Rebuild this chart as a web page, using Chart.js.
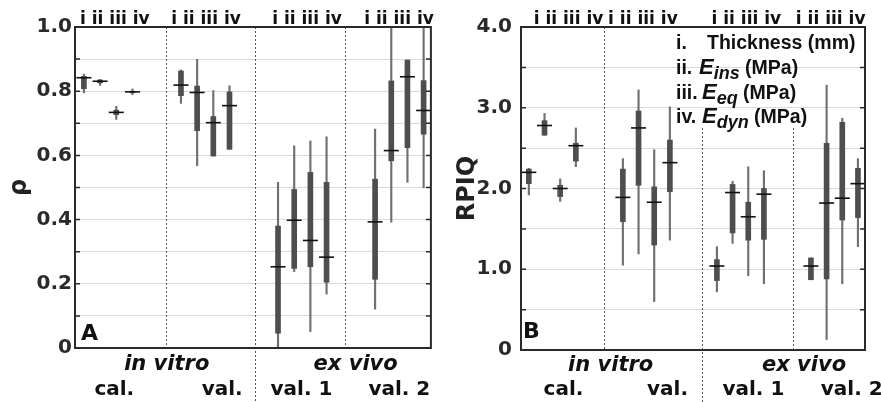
<!DOCTYPE html>
<html>
<head>
<meta charset="utf-8">
<script src="https://cdn.jsdelivr.net/npm/chart.js@4.4.1/dist/chart.umd.min.js"></script>
<style>
  html, body { margin: 0; padding: 0; background: #fff; }
  #wrap { position: relative; width: 881px; height: 402px; }
  #wrap canvas { position: absolute; top: 0; }
  #graficaA { left: 0; }
  #graficaB { left: 440px; }
</style>
</head>
<body>
<div id="wrap">
  <canvas id="graficaA" width="440" height="402"></canvas>
  <canvas id="graficaB" width="441" height="402"></canvas>
</div>
<script>
// posiciones de cada caja (4 grupos x 4 parametros)
const posiciones = [0, 1, 2, 3, 6, 7, 8, 9, 12, 13, 14, 15, 18, 19, 20, 21];
const parametros = ['i', 'ii', 'iii', 'iv'];
const origen = ['in vitro', 'ex vivo'];
const grupos = ['cal.', 'val.', 'val. 1', 'val. 2'];

// A: rho
const rhoMin = [0.795, 0.818, 0.712, 0.789, 0.762, 0.568, 0.598, 0.619, 0.0, 0.238, 0.051, 0.168, 0.121, 0.392, 0.516, 0.499];
const rhoQ1  = [0.808, 0.826, 0.727, 0.795, 0.786, 0.677, 0.598, 0.619, 0.046, 0.248, 0.253, 0.205, 0.214, 0.583, 0.624, 0.666];
const rhoMed = [0.842, 0.831, 0.734, 0.798, 0.819, 0.796, 0.702, 0.755, 0.253, 0.398, 0.335, 0.283, 0.393, 0.615, 0.845, 0.740];
const rhoQ3  = [0.846, 0.835, 0.741, 0.800, 0.863, 0.816, 0.721, 0.798, 0.380, 0.494, 0.547, 0.516, 0.526, 0.832, 0.897, 0.833];
const rhoMax = [0.853, 0.837, 0.753, 0.807, 0.866, 0.899, 0.802, 0.817, 0.516, 0.630, 0.645, 0.658, 0.682, 1.0, 0.897, 1.0];

// B: RPIQ
const rpiqMin = [1.92, 2.66, 1.84, 2.27, 1.05, 1.19, 0.60, 1.36, 0.72, 1.32, 0.92, 0.82, 0.87, 0.13, 0.82, 1.28];
const rpiqQ1  = [2.06, 2.66, 1.90, 2.34, 1.59, 2.04, 1.30, 1.96, 0.86, 1.45, 1.36, 1.37, 0.87, 0.88, 1.61, 1.64];
const rpiqMed = [2.20, 2.78, 2.00, 2.53, 1.89, 2.75, 1.83, 2.32, 1.04, 1.95, 1.65, 1.93, 1.04, 1.82, 1.88, 2.06];
const rpiqQ3  = [2.24, 2.84, 2.04, 2.56, 2.24, 2.96, 2.02, 2.60, 1.12, 2.05, 1.83, 2.00, 1.14, 2.56, 2.82, 2.25];
const rpiqMax = [2.25, 2.93, 2.12, 2.75, 2.37, 3.22, 2.48, 3.01, 1.28, 2.09, 2.27, 2.22, 1.14, 3.28, 2.87, 2.37];

const FUENTE = "'Liberation Sans', Arial, sans-serif";
const DEJAVU = "'DejaVu Sans', sans-serif";

const decoraciones = {
  id: 'decoraciones',
  beforeDatasetsDraw(chart, args, o) {
    const ctx = chart.ctx, a = chart.chartArea, x = chart.scales.x, y = chart.scales.y;
    ctx.save();
    ctx.strokeStyle = '#555';
    ctx.lineWidth = 1;
    ctx.setLineDash([2, 2]);
    o.separadores.forEach(s => {
      const px = Math.round(x.getPixelForValue(s.v)) + 0.5;
      const top = s.desde != null ? y.getPixelForValue(s.desde) : a.top;
      const bottom = s.hastaAbajo ? chart.height : a.bottom;
      ctx.beginPath(); ctx.moveTo(px, top); ctx.lineTo(px, bottom); ctx.stroke();
    });
    ctx.restore();
  },
  afterDatasetsDraw(chart) {
    const ctx = chart.ctx, a = chart.chartArea, y = chart.scales.y;
    ctx.save();
    ctx.strokeStyle = '#2a2a2a';
    ctx.lineWidth = 1.5;
    y.ticks.forEach(t => {
      const py = y.getPixelForValue(t.value);
      ctx.beginPath();
      ctx.moveTo(a.left, py); ctx.lineTo(a.left + 5, py);
      ctx.moveTo(a.right - 5, py); ctx.lineTo(a.right, py);
      ctx.stroke();
    });
    ctx.lineWidth = 2;
    ctx.strokeRect(a.left, a.top, a.right - a.left, a.bottom - a.top);
    ctx.restore();
  },
  afterDraw(chart, args, o) {
    const ctx = chart.ctx, a = chart.chartArea;
    ctx.save();
    ctx.fillStyle = '#111';
    ctx.font = 'bold 22px ' + DEJAVU;
    ctx.textBaseline = 'alphabetic';
    ctx.fillText(o.letra, a.left + o.letraDx, a.bottom - o.letraDy);
    if (o.leyenda) {
      o.leyenda.forEach(f => {
        ctx.font = 'bold 19.5px ' + FUENTE;
        ctx.fillText(f.num, 236, f.base);
        let cx = f.x;
        f.partes.forEach(p => {
          ctx.font = p.f + ' ' + FUENTE;
          ctx.fillText(p.t, cx, f.base + (p.dy || 0));
          cx += ctx.measureText(p.t).width;
        });
      });
    }
    ctx.restore();
  }
};

function ejeTexto(pos, peso, vals, etiquetas, fuente, pad, alto, p) {
  return {
    type: 'linear', position: pos, weight: peso, min: p.xmin, max: p.xmax, offset: false,
    afterBuildTicks: s => { s.ticks = vals.map(v => ({ value: v })); },
    afterFit: s => { s.height = alto; s.paddingLeft = 0; s.paddingRight = 0; },
    ticks: { autoSkip: false, maxRotation: 0, padding: pad, color: '#111', font: fuente,
             callback: (v, i) => etiquetas[i] },
    grid: { display: false, drawTicks: false, offset: false },
    border: { display: false }
  };
}

function crearPanel(p) {
  return new Chart(document.getElementById(p.canvas), {
    type: 'bar',
    data: {
      datasets: [
        { type: 'scatter', label: 'mediana', xAxisID: 'x', yAxisID: 'y', order: 1,
          data: posiciones.map((x, i) => ({ x: x, y: p.med[i] })),
          pointStyle: 'line', pointRadius: 7.5, pointHoverRadius: 7.5,
          borderColor: '#111', borderWidth: 1.6 },
        { label: 'caja', xAxisID: 'x', yAxisID: 'y', order: 2, grouped: false,
          data: posiciones.map((x, i) => ({ x: x, y: [p.q1[i], p.q3[i]] })),
          backgroundColor: '#4e4e4e', barThickness: 5 },
        { label: 'bigote', xAxisID: 'x', yAxisID: 'y', order: 3, grouped: false,
          data: posiciones.map((x, i) => ({ x: x, y: [p.min[i], p.max[i]] })),
          backgroundColor: '#707070', barThickness: 1.5 }
      ]
    },
    options: {
      responsive: false,
      animation: false,
      devicePixelRatio: 1,
      layout: { padding: p.padding },
      plugins: { legend: { display: false }, tooltip: { enabled: false }, decoraciones: p.deco },
      scales: {
        x: { type: 'linear', min: p.xmin, max: p.xmax, offset: false, display: false, grid: { offset: false } },
        y: {
          min: 0, max: p.ymax,
          afterFit: s => { s.width = p.anchoY; s.paddingTop = 0; s.paddingBottom = 0; },
          ticks: { stepSize: p.ystep, padding: p.tickPad, color: '#2a2a2a',
                   font: { family: DEJAVU, weight: 'bold', size: 20 }, callback: p.etiquetaY },
          grid: { color: '#dadada', drawTicks: false },
          border: { display: false },
          title: { display: true, text: p.titulo, color: '#222', padding: { top: p.tituloPad, bottom: 0 },
                   font: { family: DEJAVU, weight: 'bold', size: 24 } }
        },
        arriba: ejeTexto('top', 1, p.posArriba, p.posArriba.map(() => parametros.join(' ')),
                         { family: DEJAVU, weight: 'bold', size: 17, lineHeight: 1 }, -1, p.arriba, p),
        origen: ejeTexto('bottom', 1, p.posOrigen, origen,
                         { family: DEJAVU, weight: 'bold', style: 'italic', size: 21 }, p.padOrigen, p.altoOrigen, p),
        grupo: ejeTexto('bottom', 2, p.posGrupo, grupos,
                        { family: DEJAVU, weight: 'bold', size: 20 }, p.padGrupo, p.altoGrupo, p)
      }
    },
    plugins: [decoraciones]
  });
}

crearPanel({
  canvas: 'graficaA', titulo: 'ρ', tituloPad: 5, ymax: 1, ystep: 0.1, xmin: -0.55, xmax: 21.45,
  min: rhoMin, q1: rhoQ1, med: rhoMed, q3: rhoQ3, max: rhoMax,
  anchoY: 75, tickPad: 3, padding: { left: 0, right: 2, top: 0, bottom: 0 },
  arriba: 27, altoOrigen: 28, padOrigen: 3.5, altoGrupo: 26, padGrupo: 1.5,
  posArriba: [1.91, 7.55, 13.79, 19.48],
  posOrigen: [5.12, 16.8], posGrupo: [1.88, 8.55, 13.45, 19.5],
  etiquetaY: v => (Math.round(v * 10) % 2 === 0 ? (v === 0 ? '0' : v.toFixed(1)) : ''),
  deco: { letra: 'A', letraDx: 6, letraDy: 8, separadores: [{ v: 5.09 }, { v: 10.55, hastaAbajo: true }, { v: 16.12 }] }
});

crearPanel({
  canvas: 'graficaB', titulo: 'RPIQ', tituloPad: 13, ymax: 4, ystep: 0.5, xmin: -0.5, xmax: 21.45,
  min: rpiqMin, q1: rpiqQ1, med: rpiqMed, q3: rpiqQ3, max: rpiqMax,
  anchoY: 81, tickPad: 9, padding: { left: 0, right: 16, top: 0, bottom: 0 },
  arriba: 27, altoOrigen: 27, padOrigen: 2.8, altoGrupo: 25, padGrupo: 0.5,
  posArriba: [2.53, 7.28, 13.88, 19.26],
  posOrigen: [5.22, 17.56], posGrupo: [2.21, 8.85, 14.33, 20.6],
  etiquetaY: v => (Math.abs(v - Math.round(v)) < 1e-6 ? (v === 0 ? '0' : v.toFixed(1)) : ''),
  deco: {
    letra: 'B', letraDx: 2, letraDy: 12,
    separadores: [{ v: 4.8 }, { v: 11.05, desde: 2.75, hastaAbajo: true }, { v: 16.86, desde: 2.75 }],
    leyenda: [
      { num: 'i.', x: 267, base: 48.5, partes: [{ t: 'Thickness (mm)', f: 'bold 19.5px' }] },
      { num: 'ii.', x: 259, base: 73.5, partes: [{ t: 'E', f: 'italic bold 22px' }, { t: 'ins', f: 'italic bold 18px', dy: 5 }, { t: ' (MPa)', f: 'bold 19.5px' }] },
      { num: 'iii.', x: 262, base: 98.5, partes: [{ t: 'E', f: 'italic bold 22px' }, { t: 'eq', f: 'italic bold 18px', dy: 5 }, { t: ' (MPa)', f: 'bold 19.5px' }] },
      { num: 'iv.', x: 262, base: 123, partes: [{ t: 'E', f: 'italic bold 22px' }, { t: 'dyn', f: 'italic bold 18px', dy: 5 }, { t: ' (MPa)', f: 'bold 19.5px' }] }
    ]
  }
});
</script>
</body>
</html>
